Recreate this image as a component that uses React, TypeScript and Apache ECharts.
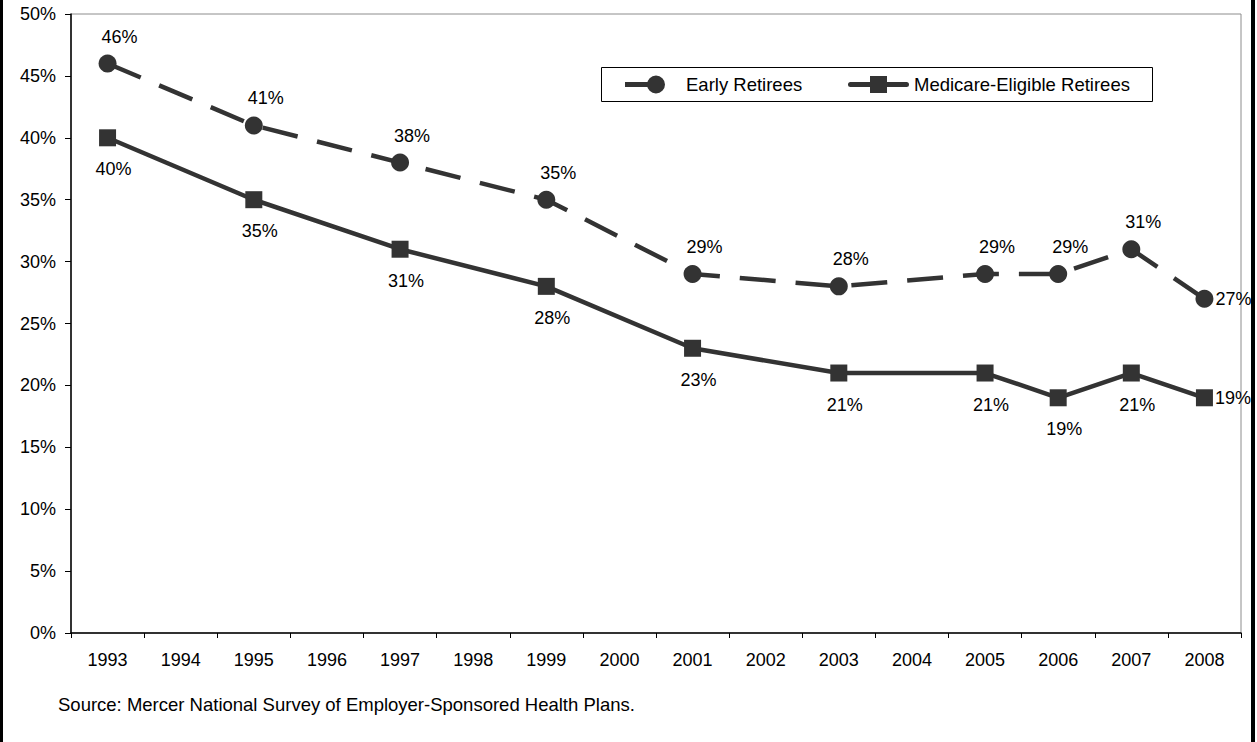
import React, { useEffect, useRef } from "react";
import * as echarts from "echarts";

const years = ["1993","1994","1995","1996","1997","1998","1999","2000","2001","2002","2003","2004","2005","2006","2007","2008"];
const earlyRetirees = [46, null, 41, null, 38, null, 35, null, 29, null, 28, null, 29, 29, 31, 27];
const medicareRetirees = [40, null, 35, null, 31, null, 28, null, 23, null, 21, null, 21, 19, 21, 19];
const yTicks = { min: 0, max: 50, interval: 5 };
const seriesNames = ["Early Retirees", "Medicare-Eligible Retirees"];
const sourceNote = "Source: Mercer National Survey of Employer-Sponsored Health Plans.";

const FONT = "'Liberation Sans', Arial, sans-serif";
const INK = "#333333";

const earlyIcon =
  "path://M0,6.5 L31,6.5 L31,11.5 L0,11.5 Z M22,9 A9,9 0 1,1 40,9 A9,9 0 1,1 22,9 Z";
const medicareIcon =
  "path://M2.5,6.5 L58.5,6.5 A2.5,2.5 0 0,1 58.5,11.5 L2.5,11.5 A2.5,2.5 0 0,1 2.5,6.5 Z M22,0.5 L39,0.5 L39,17.5 L22,17.5 Z";

function withLastRight(values: (number | null)[]) {
  const last = values.length - 1;
  return values.map((v, i) =>
    i === last && v !== null
      ? { value: v, label: { position: "right", distance: 2, offset: [0, 0] } }
      : v
  );
}

export default function App() {
  const ref = useRef<HTMLDivElement>(null);
  useEffect(() => {
    document.body.style.margin = "0";
    const chart = echarts.init(ref.current!, null, { renderer: "svg" });
    const legendText = { fontSize: 18.5, color: "#000", fontFamily: FONT };
    chart.setOption({
      animation: false,
      backgroundColor: "#ffffff",
      textStyle: { fontFamily: FONT },
      grid: {
        left: 71, top: 14, right: 16, bottom: 109,
        show: true, borderColor: "#8c8c8c", borderWidth: 1,
      },
      legend: [
        {
          left: 625, top: 75, padding: 0,
          itemWidth: 40, itemHeight: 18,
          textStyle: { ...legendText, padding: [0, 0, 0, 16] },
          data: [{ name: seriesNames[0], icon: earlyIcon }],
        },
        {
          left: 848, top: 75, padding: 0,
          itemWidth: 61, itemHeight: 18,
          textStyle: legendText,
          data: [{ name: seriesNames[1], icon: medicareIcon }],
        },
      ],
      xAxis: {
        type: "category",
        data: years,
        boundaryGap: true,
        axisLine: { show: true, lineStyle: { color: "#000", width: 1.5 } },
        axisTick: { show: true, interval: 0, length: 5, inside: false, lineStyle: { color: "#000" } },
        axisLabel: { interval: 0, margin: 18, fontSize: 18, color: "#000", fontFamily: FONT },
        splitLine: { show: false },
      },
      yAxis: {
        type: "value",
        min: yTicks.min, max: yTicks.max, interval: yTicks.interval,
        axisLine: { show: true, lineStyle: { color: "#000", width: 1.5 } },
        axisTick: { show: true, length: 6, lineStyle: { color: "#000" } },
        axisLabel: { formatter: "{value}%", margin: 15, fontSize: 18, color: "#000", fontFamily: FONT },
        splitLine: { show: false },
      },
      series: [
        {
          name: seriesNames[0],
          type: "line",
          data: withLastRight(earlyRetirees),
          connectNulls: true,
          symbol: "circle",
          symbolSize: 18,
          itemStyle: { color: INK },
          lineStyle: { color: INK, width: 4.5, type: [36, 20] },
          label: {
            show: true, position: "top", distance: 9, offset: [12, 0],
            formatter: "{c}%", fontSize: 18, color: "#000", fontFamily: FONT,
          },
          z: 3,
        },
        {
          name: seriesNames[1],
          type: "line",
          data: withLastRight(medicareRetirees),
          connectNulls: true,
          symbol: "rect",
          symbolSize: 17,
          itemStyle: { color: INK },
          lineStyle: { color: INK, width: 4.5, type: "solid" },
          label: {
            show: true, position: "bottom", distance: 14, offset: [6, 0],
            formatter: "{c}%", fontSize: 18, color: "#000", fontFamily: FONT,
          },
          z: 3,
        },
      ],
      graphic: [
        {
          type: "rect", left: 601, top: 67, z: 1,
          shape: { width: 551, height: 34 },
          style: { fill: "#ffffff", stroke: "#000000", lineWidth: 1 },
        },
        {
          type: "text", left: 58, top: 695,
          style: { text: sourceNote, fill: "#000", font: `18.5px ${FONT}` },
        },
        { type: "rect", left: 0, top: 0, shape: { width: 3, height: 742 }, style: { fill: "#000" } },
        { type: "rect", left: 1251, top: 0, shape: { width: 4, height: 742 }, style: { fill: "#000" } },
      ],
    });
    return () => chart.dispose();
  }, []);
  return <div ref={ref} style={{ width: 1257, height: 742 }} />;
}
